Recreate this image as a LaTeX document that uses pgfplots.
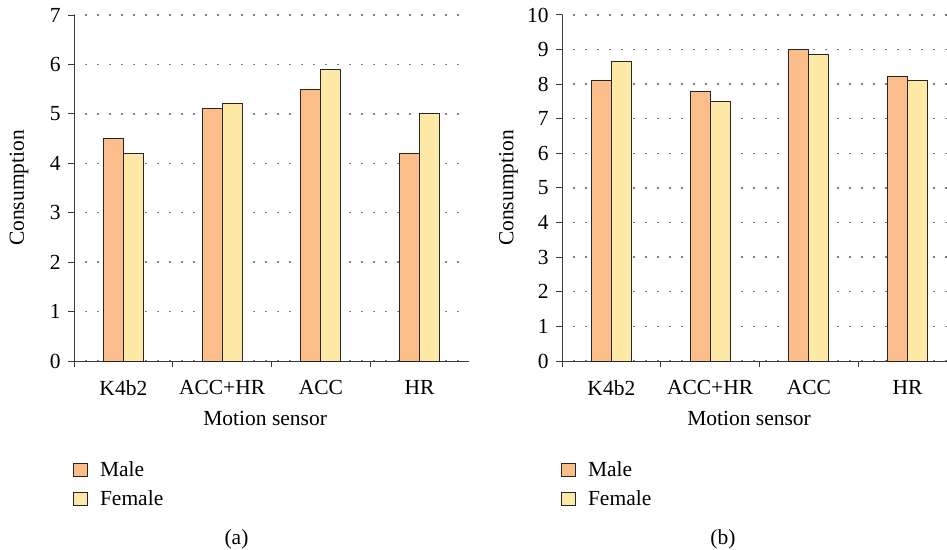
\documentclass[border=0pt]{standalone}
\usepackage{pgfplots}
\pgfplotsset{compat=1.18}
\usepackage{fontspec}
\setmainfont{Liberation Serif}
\definecolor{male}{HTML}{FBBE8A}
\definecolor{female}{HTML}{FEE8A5}
\definecolor{edge}{HTML}{262626}
\definecolor{axisc}{HTML}{3A3A3A}

\pgfplotstableread{
x male female
0 4.5 4.2
1 5.1 5.2
2 5.5 5.9
3 4.2 5.0
}\dataA
\pgfplotstableread{
x male female
0 8.10 8.67
1 7.80 7.50
2 9.00 8.87
3 8.22 8.10
}\dataB

\pgfplotsset{
 mystyle/.style={
  scale only axis, height=346pt,
  ymin=0,
  axis x line*=bottom, axis y line*=left,
  axis line style={axisc, line width=1pt, -},
  xmin=-0.5,
  ybar=0pt, bar width=20pt,
  xtick={0,1,2,3}, xticklabels={K4b2,ACC+HR,ACC,HR},
  xtick style={draw=none},
  extra x ticks={-0.5,0.5,1.5,2.5},
  extra x tick labels={},
  extra x tick style={xtick style={draw=axisc, line width=1pt}, grid=none},
  tick align=outside,
  major tick length=6pt,
  ytick style={axisc, line width=1pt},
  ymajorgrids,
  major grid style={dash pattern=on 1.5pt off 10.5pt, dash phase=0.75pt, black!50, line width=1.4pt},
  tick label style={font=\fontsize{21.5}{25}\selectfont},
  xticklabel style={yshift=-6pt},
  yticklabel style={/pgf/number format/assume math mode=true},
  label style={font=\fontsize{21.5}{25}\selectfont},
  xlabel={Motion sensor}, ylabel={Consumption},
  every axis y label/.style={at={(axis description cs:-0.1266,0.5)}, rotate=90, anchor=base},
  legend style={anchor=north west, draw=none, fill=none, inner sep=0pt, outer sep=0pt,
    row sep=15pt, column sep=12pt,
    font=\fontsize{21.5}{25}\selectfont,
    nodes={inner sep=0pt, text height=14pt, text depth=0pt}},
  legend cell align=left,
  legend image code/.code={\draw[#1, line width=1pt] (0pt,-7pt) rectangle (14pt,6pt);},
 },
 malebar/.style={fill=male, draw=edge, line width=1pt},
 femalebar/.style={fill=female, draw=edge, line width=1pt},
}

\begin{document}
\fontsize{21.5}{25}\selectfont
\begin{tikzpicture}
\useasboundingbox (0,0) rectangle (947pt,549pt);
\begin{axis}[mystyle, at={(74pt,188pt)}, anchor=south west, width=395pt,
  xmax=3.5, ymax=7, ytick={0,1,...,7},
  every axis x label/.style={at={(axis description cs:0.484,-0.185)}, anchor=base},
  legend style={at={(axis description cs:-0.0025,-0.292)}}]
\addplot[malebar] table[x=x, y=male] {\dataA};
\addplot[femalebar] table[x=x, y=female] {\dataA};
\legend{Male, Female}
\end{axis}
\begin{axis}[mystyle, at={(562pt,188pt)}, anchor=south west, width=385pt,
  xmax=3.399, ymax=10, ytick={0,1,...,10},
  every axis x label/.style={at={(axis description cs:0.486,-0.185)}, anchor=base},
  legend style={at={(axis description cs:-0.0025,-0.292)}}]
\addplot[malebar] table[x=x, y=male] {\dataB};
\addplot[femalebar] table[x=x, y=female] {\dataB};
\legend{Male, Female}
\end{axis}
\node[anchor=base] at (236.5pt,5pt) {(a)};
\node[anchor=base] at (723pt,5pt) {(b)};
\end{tikzpicture}
\end{document}
